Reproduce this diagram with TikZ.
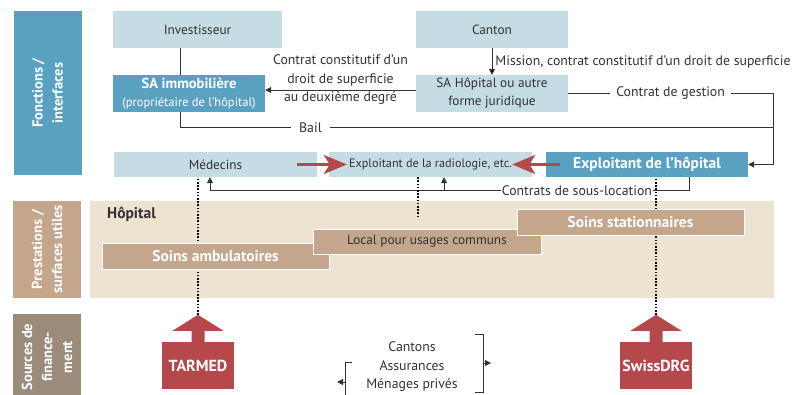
\documentclass[tikz,border=0pt]{standalone}
\usepackage{fontspec}
\setmainfont{PT Sans}
\usetikzlibrary{arrows.meta,calc}

\definecolor{paleblue}{HTML}{C5DCE5}
\definecolor{midblue}{HTML}{5AA1C1}
\definecolor{sand}{HTML}{EDE3D0}
\definecolor{tan}{HTML}{C4A68C}
\definecolor{taupe}{HTML}{9B8B7B}
\definecolor{brick}{HTML}{B5484A}
\definecolor{ink}{HTML}{333333}

\tikzset{
  box/.style={inner sep=0pt, align=center, text=ink, font=\fontsize{13.3}{18}\selectfont},
  pale/.style={box, fill=paleblue},
  dark/.style={box, fill=midblue, text=white},
  bar/.style={box, fill=tan, draw=white, line width=0.8pt, minimum width=227pt, minimum height=26pt},
  side/.style={box, rotate=90, text=white, minimum height=68pt, font=\bfseries\fontsize{14.5}{20}\selectfont},
  fin/.style={box, fill=brick, text=white, minimum width=72pt, minimum height=47pt, font=\bfseries\fontsize{16}{18}\selectfont},
  link/.style={draw=ink, line width=0.9pt},
  tip/.style={-{Triangle[length=6pt,width=6pt]}},
  redline/.style={draw=brick, line width=3.2pt, -{Stealth[length=23pt,width=19pt,inset=6pt]}},
  dots/.style={draw=black, line width=1.6pt, dash pattern=on 1.6pt off 1.6pt},
  lbl/.style={text=ink, font=\fontsize{13.8}{18.5}\selectfont, align=center, inner sep=3pt}
}

\begin{document}
\begin{tikzpicture}[x=1pt, y=-1pt]
  \useasboundingbox (0,0) rectangle (805,394);

  \node[side, fill=midblue, minimum width=164pt] (fonct) at (47.5,93) {Fonctions /\\interfaces};
  \node[side, fill=tan, minimum width=97pt] (prest) at (47,249.5) {Prestations /\\surfaces utiles};
  \node[side, fill=taupe, minimum width=86pt] (sources) at (47,357) {Sources de\\finance-\\ment};

  \node[pale, minimum width=169pt, minimum height=37pt] (inv) at (197.5,29.5) {Investisseur};
  \node[pale, minimum width=152pt, minimum height=37pt] (canton) at (492,29.5) {Canton};
  \node[dark, minimum width=152pt, minimum height=37pt] (immo) at (189,93.5)
    {{\bfseries\fontsize{14.5}{16}\selectfont SA immobilière}\\{\fontsize{12.5}{16}\selectfont(propriétaire de l'hôpital)}};
  \node[pale, minimum width=152pt, minimum height=37pt] (sahop) at (492,93.5) {SA Hôpital ou autre\\forme juridique};
  \node[pale, minimum width=203pt, minimum height=25pt] (med) at (215.5,164.5) {Médecins};
  \node[pale, minimum width=203pt, minimum height=25pt, font=\fontsize{12.2}{14}\selectfont] (radio) at (430.5,164.5) {Exploitant de la radiologie, etc.};
  \node[dark, minimum width=202pt, minimum height=25pt, font=\bfseries\fontsize{15.5}{17}\selectfont] (exhop) at (647,164.5) {Exploitant de l’hôpital};
  \coordinate (gestion) at (773,0);

  \draw[link] ([xshift=-9pt]immo.north) -- ([xshift=-9pt]immo.north |- inv.south);
  \path[link, tip] (canton) edge node[lbl, right] {Mission, contrat constitutif d’un droit de superficie} (sahop);
  \draw[link, tip] ([yshift=3.5pt]sahop.west) -- node[lbl, yshift=10pt] {Contrat constitutif d'un\\droit de superficie\\au deuxième degré} ([yshift=3.5pt]sahop.west -| immo.east);
  \draw[link, tip] (sahop.east) -- node[lbl, fill=white, inner xsep=6pt] {Contrat de gestion} (sahop.east -| gestion) |- (exhop.east);
  \draw[link] ([xshift=-9pt]immo.south) -- ++(0,15) coordinate (bail) -- node[lbl, pos=0.22, fill=white, inner xsep=8pt] {Bail} (bail -| gestion);
  \draw[link, tip] ([xshift=42pt]exhop.south) -- ++(0,13.5) coordinate (sl) -- node[lbl, pos=0.234, fill=white, inner xsep=1pt, inner ysep=0pt] {Contrats de sous-location} ([xshift=-5.5pt]med.south |- sl) -- ([xshift=-5.5pt]med.south);
  \draw[link, tip] ([xshift=13.5pt]radio.south |- sl) -- ([xshift=13.5pt]radio.south);

  \draw[redline] ([xshift=-20pt]med.east) -- ([xshift=18pt]radio.west);
  \draw[redline] ([xshift=14pt]exhop.west) -- ([xshift=-20pt]radio.east);

  \node[fill=sand, minimum width=684pt, minimum height=97pt, inner sep=0pt] (hop) at (432,249.5) {};
  \node[box, anchor=west, font=\bfseries\fontsize{15.5}{17}\selectfont] (hoplabel) at (107,214) {Hôpital};

  \node[fin] (tarmed) at (198,365.5) {TARMED};
  \node[fin] (drg) at (656,365.5) {SwissDRG};
  \foreach \f in {tarmed, drg}
    \fill[brick] (\f.north) ++(-6.5,1) -- ++(0,-12) -- ++(-19,0) -- ++(25.5,-16) -- ++(25.5,16) -- ++(-19,0) -- ++(0,12) -- cycle;
  \coordinate (tarmedtip) at ([yshift=27pt]tarmed.north);
  \coordinate (drgtip) at ([yshift=27pt]drg.north);

  \draw[dots] (tarmedtip) -- (tarmedtip |- med.south);
  \draw[dots] (drgtip) -- (drgtip |- exhop.south);
  \draw[dots] ([xshift=-12.5pt]radio.south) -- ++(0,41);

  \node[bar, text=white, font=\bfseries\fontsize{15.5}{17}\selectfont] (amb) at (215.5,256) {Soins ambulatoires};
  \node[bar, minimum width=228pt, minimum height=25pt] (local) at (427,241.5) {Local pour usages communs};
  \node[bar, text=white, font=\bfseries\fontsize{15.5}{17}\selectfont] (stat) at (630.5,222) {Soins stationnaires};

  \node[lbl, inner sep=0pt] (payers) at (412,367) {Cantons\\Assurances\\Ménages privés};
  \draw[link] ($(payers)+(63,-33)$) -- ($(payers)+(71,-33)$) coordinate (rtop) -- ($(payers)+(71,25)$) -- ($(payers)+(63,25)$);
  \draw[link, tip] ($(rtop)+(0,29)$) -- ++(8,0);
  \draw[link] ($(payers)+(-60,-5)$) -- ($(payers)+(-67,-5)$) coordinate (ltop) -- ($(payers)+(-67,40)$);
  \draw[link, tip] ($(ltop)+(0,20)$) -- ++(-8,0);
\end{tikzpicture}
\end{document}
